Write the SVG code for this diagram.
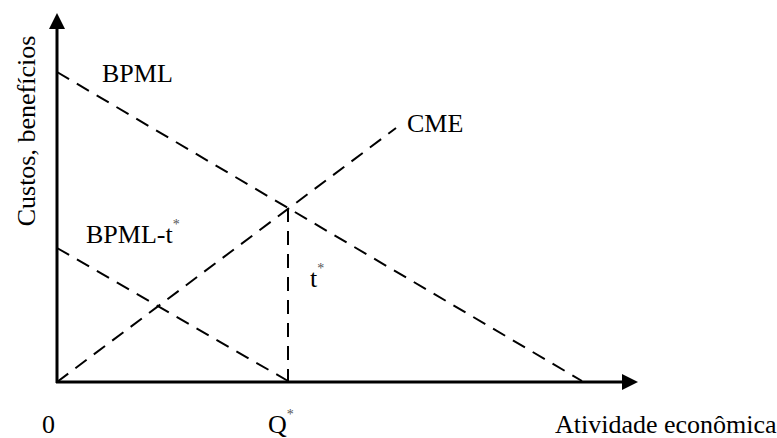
<svg xmlns="http://www.w3.org/2000/svg" width="777" height="438" viewBox="0 0 777 438">
<style>
text{font-family:"Liberation Serif","Times New Roman",serif;font-size:26px;fill:#000}
.sup{font-size:14px;fill:#555}
.axis{stroke:#000;stroke-width:3;fill:none}
.dash{stroke:#000;stroke-width:2;fill:none;stroke-dasharray:14 9}
</style>
<rect width="777" height="438" fill="#fff"/>
<g id="connectors">
<line class="axis" x1="57" y1="383" x2="57" y2="26"/>
<polygon points="57,13 49,29 65,29" fill="#000"/>
<line class="axis" x1="56" y1="382" x2="624" y2="382"/>
<polygon points="638,382 622,374 622,390" fill="#000"/>
<line class="dash" x1="57" y1="72" x2="582" y2="381"/>
<line class="dash" x1="57" y1="382" x2="396" y2="128"/>
<line class="dash" x1="57" y1="248" x2="288" y2="381"/>
<line class="dash" x1="288" y1="208" x2="288" y2="381"/>
</g>
<g id="label-yaxis"><text transform="translate(35,131) rotate(-90)" text-anchor="middle">Custos, benefícios</text></g>
<g id="label-xaxis"><text x="555" y="433">Atividade econômica</text></g>
<g id="label-bpml"><text x="102" y="82">BPML</text></g>
<g id="label-cme"><text x="407" y="132">CME</text></g>
<g id="label-bpmlt"><text x="86" y="243">BPML-t<tspan class="sup" dy="-14">*</tspan></text></g>
<g id="label-t"><text x="310" y="287">t<tspan class="sup" dy="-14">*</tspan></text></g>
<g id="label-0"><text x="42" y="433">0</text></g>
<g id="label-q"><text x="268" y="433">Q<tspan class="sup" dy="-14">*</tspan></text></g>
</svg>
